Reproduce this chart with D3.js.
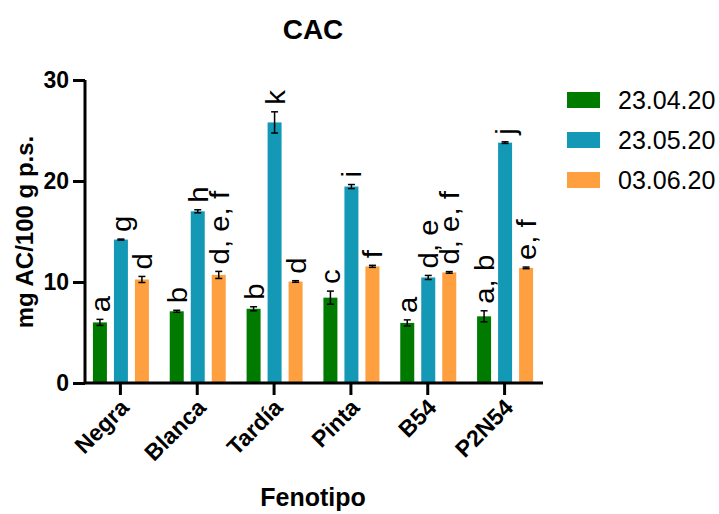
<!DOCTYPE html>
<html>
<head>
<meta charset="utf-8">
<script src="https://cdn.jsdelivr.net/npm/d3@7"></script>
<style>
  body { margin: 0; background: #fff; }
  text { font-family: "Liberation Sans", Arial, sans-serif; }
</style>
</head>
<body>
<div id="app"></div>
<script>
// CAC per phenotype, three sampling dates
const categories = ['Negra', 'Blanca', 'Tardía', 'Pinta', 'B54', 'P2N54'];
const series = ['23.04.20', '23.05.20', '03.06.20'];
const colors = ['#007B00', '#1399B5', '#FFA040'];

const values = [
  [6.0, 7.1, 7.35, 8.45, 5.95, 6.6],      // 23.04.20
  [14.2, 17.0, 25.8, 19.45, 10.45, 23.8], // 23.05.20
  [10.25, 10.7, 10.05, 11.55, 10.95, 11.4] // 03.06.20
];
const errors = [
  [0.3, 0.1, 0.2, 0.65, 0.3, 0.55],
  [0.05, 0.15, 1.05, 0.2, 0.2, 0.08],
  [0.3, 0.35, 0.08, 0.1, 0.08, 0.08]
];
const letters = [
  ['a', 'b', 'b', 'c', 'a', 'a, b'],
  ['g', 'h', 'k', 'i', 'd, e', 'j'],
  ['d', 'd, e, f', 'd', 'f', 'd, e, f', 'e, f']
];
const yTicks = [0, 10, 20, 30];

(() => {
  const W = 719, H = 514;
  const svg = d3.select('#app').append('svg')
    .attr('width', W).attr('height', H);

  const x0 = d3.scaleBand().domain(categories).range([82, 543]);
  const x1 = d3.scaleBand().domain(series).range([-27.5, 28.5]).paddingInner(1 / 3);
  const y = d3.scaleLinear().domain([0, 30]).range([383, 80]);

  const rows = [];
  series.forEach((s, si) => {
    categories.forEach((c, ci) => {
      rows.push({ s, si, c, v: values[si][ci], e: errors[si][ci], lab: letters[si][ci] });
    });
  });
  const cx = d => x0(d.c) + x0.bandwidth() / 2 + x1(d.s) + x1.bandwidth() / 2;

  // bars
  svg.append('g').selectAll('rect').data(rows).join('rect')
    .attr('x', d => x0(d.c) + x0.bandwidth() / 2 + x1(d.s))
    .attr('width', x1.bandwidth())
    .attr('y', d => y(d.v))
    .attr('height', d => y(0) - y(d.v))
    .attr('fill', d => colors[d.si]);

  // error bars
  const eb = svg.append('g').attr('stroke', '#000').attr('stroke-width', 1.5);
  eb.selectAll('line.v').data(rows).join('line').attr('class', 'v')
    .attr('x1', cx).attr('x2', cx)
    .attr('y1', d => y(d.v - d.e)).attr('y2', d => y(d.v + d.e));
  ['-', '+'].forEach(sign => {
    eb.selectAll('line.c' + (sign === '+' ? 'p' : 'm')).data(rows).join('line')
      .attr('class', 'c' + (sign === '+' ? 'p' : 'm'))
      .attr('x1', d => cx(d) - 3.5).attr('x2', d => cx(d) + 3.5)
      .attr('y1', d => y(sign === '+' ? d.v + d.e : d.v - d.e))
      .attr('y2', d => y(sign === '+' ? d.v + d.e : d.v - d.e));
  });

  // significance letters
  svg.append('g').selectAll('text').data(rows).join('text')
    .attr('transform', d => `translate(${cx(d) + 10},${y(d.v + d.e) - 7}) rotate(-90) scale(1.05,1)`)
    .attr('font-size', 28)
    .attr('fill', '#000')
    .text(d => d.lab);

  // y axis
  const yAxis = svg.append('g')
    .attr('transform', 'translate(85,0)')
    .call(d3.axisLeft(y).tickValues(yTicks).tickSize(12).tickPadding(4));
  yAxis.selectAll('line, path').attr('stroke', '#000').attr('stroke-width', 3);
  yAxis.select('.domain').attr('d', `M0,${y(30)}V${y(0)}`);
  yAxis.selectAll('text').attr('font-size', 23).attr('font-weight', 'bold')
    .attr('font-family', '"Liberation Sans", Arial, sans-serif').attr('fill', '#000');

  // x axis
  const xAxis = svg.append('g')
    .attr('transform', `translate(0,${y(0)})`)
    .call(d3.axisBottom(x0).tickSize(12).tickSizeOuter(0).tickFormat(''));
  xAxis.selectAll('line, path').attr('stroke', '#000').attr('stroke-width', 3);
  xAxis.select('.domain').attr('d', 'M85,0H543');
  xAxis.selectAll('.tick').append('text')
    .attr('transform', 'translate(10,26) rotate(-45)')
    .attr('text-anchor', 'end')
    .attr('font-size', 23).attr('font-weight', 'bold').attr('fill', '#000')
    .text(d => d);

  // titles
  svg.append('text').attr('x', 313).attr('y', 39)
    .attr('text-anchor', 'middle').attr('font-size', 28).attr('font-weight', 'bold')
    .text('CAC');
  svg.append('text').attr('transform', 'translate(33,232) rotate(-90)')
    .attr('text-anchor', 'middle').attr('font-size', 24).attr('font-weight', 'bold')
    .text('mg AC/100 g p.s.');
  svg.append('text').attr('x', 313).attr('y', 506)
    .attr('text-anchor', 'middle').attr('font-size', 25).attr('font-weight', 'bold')
    .text('Fenotipo');

  // legend
  const lg = svg.append('g').selectAll('g').data(series).join('g')
    .attr('transform', (d, i) => `translate(567,${100 + i * 40})`);
  lg.append('rect').attr('x', 0).attr('y', -8).attr('width', 33).attr('height', 16)
    .attr('fill', (d, i) => colors[i]);
  lg.append('text').attr('x', 51).attr('y', 9).attr('font-size', 25).text(d => d);
})();
</script>
</body>
</html>
